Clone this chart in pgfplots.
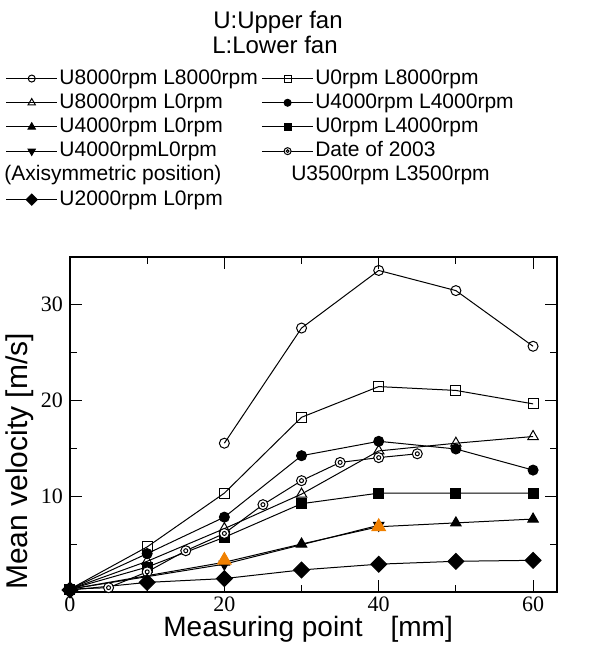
\documentclass[border=0pt]{standalone}
\usepackage{fontspec}
\setmainfont{Liberation Sans}
\newfontfamily\tickfont{Liberation Serif}
\usepackage{pgfplots}
\pgfplotsset{compat=1.18}
\usetikzlibrary{calc}

\definecolor{hiorange}{RGB}{240,128,0}

\pgfdeclareplotmark{dcirc}{%
  \pgfpathcircle{\pgfpoint{0pt}{0pt}}{\pgfplotmarksize}\pgfusepathqfillstroke
  \pgfpathcircle{\pgfpoint{0pt}{0pt}}{0.4\pgfplotmarksize}\pgfusepathqstroke}

\begin{document}
\begin{tikzpicture}
\begin{axis}[
  name=ax,
  scale only axis, width=243.5pt, height=167.5pt,
  xmin=0, xmax=63.1, ymin=0, ymax=34.9,
  xtick={0,20,40,60}, ytick={10,20,30},
  minor xtick={10,30,50}, minor ytick={5,15,25},
  tick align=inside, major tick length=6pt, minor tick length=3.5pt,
  axis line style={line width=0.7pt},
  every tick/.style={black, line width=0.5pt},
  /pgf/number format/assume math mode=true,
  xticklabel={\tickfont\pgfmathprintnumber{\tick}},
  yticklabel={\tickfont\pgfmathprintnumber{\tick}},
  tick label style={font=\fontsize{11}{12}\selectfont},
  xticklabel style={yshift=1pt},
  xlabel={Measuring point\hspace{14pt}[mm]},
  ylabel={Mean velocity [m/s]},
  every axis x label/.style={at={(rel axis cs:0.489,0)}, yshift=-18.5pt, anchor=center, font=\fontsize{14}{15}\selectfont},
  every axis y label/.style={at={(rel axis cs:0,0.39)}, xshift=-25pt, rotate=90, anchor=center, font=\fontsize{15}{16}\selectfont},
  clip=false,
  every axis plot/.append style={black, line width=0.5pt},
  legend columns=2,
  legend cell align=left,
  legend image code/.code={\draw[mark repeat=2,mark phase=2] plot coordinates {(0cm,0cm)(0.45cm,0cm)(0.9cm,0cm)};},
  legend image post style={every mark/.append style={scale=0.7}},
  legend style={at={(rel axis cs:-0.133,1.57)}, anchor=north west, draw=none, fill=none,
    inner sep=0pt, row sep=0pt, font=\fontsize{10.5}{12}\selectfont,
    nodes={inner sep=0.8pt, text height=8pt, text depth=2.5pt},
    /tikz/every even column/.append style={column sep=1pt}},
]
\addplot[mark=o, mark size=2.5pt, mark options={fill=white}] coordinates {
(20,15.5) (30,27.5) (40,33.5) (50,31.4) (60,25.6)};
\addlegendentry{U8000rpm L8000rpm}
\addplot[mark=square, mark size=2.5pt, mark options={fill=white}] coordinates {
(0,0.3) (10,4.7) (20,10.3) (30,18.2) (40,21.4) (50,21.0) (60,19.6)};
\addlegendentry{U0rpm L8000rpm}
\addplot[mark=triangle, mark size=3pt, mark options={fill=white}] coordinates {
(0,0.3) (10,3.2) (20,6.6) (30,10.2) (40,14.7) (50,15.5) (60,16.2)};
\addlegendentry{U8000rpm L0rpm}
\addplot[mark=*, mark size=2.5pt] coordinates {
(0,0.3) (10,4.0) (20,7.8) (30,14.2) (40,15.7) (50,14.9) (60,12.7)};
\addlegendentry{U4000rpm L4000rpm}
\addplot[mark=triangle*, mark size=3pt] coordinates {
(0,0.3) (20,3.1) (30,5.0) (40,6.8) (50,7.2) (60,7.6)};
\addlegendentry{U4000rpm L0rpm}
\addplot[mark=square*, mark size=2.5pt] coordinates {
(0,0.3) (10,2.6) (20,5.7) (30,9.2) (40,10.3) (50,10.3) (60,10.3)};
\addlegendentry{U0rpm L4000rpm}
\addplot[mark=triangle*, mark size=3pt, mark options={rotate=180}] coordinates {
(0,0.3) (20,2.9) (40,6.95)};
\addlegendentry{U4000rpmL0rpm}
\addplot[mark=dcirc, mark size=2.5pt, mark options={fill=white}] coordinates {
(0,0.3) (5,0.45) (10,2.1) (15,4.3) (20,6.1) (25,9.1) (30,11.6) (35,13.5) (40,14.0) (45,14.4)};
\addlegendentry{Date of 2003}
\addlegendimage{empty legend}
\addlegendentry{\hspace{-27.5pt}(Axisymmetric position)}
\addlegendimage{empty legend}
\addlegendentry{\hspace{-12pt}U3500rpm L3500rpm}
\addplot[mark=square*, mark size=2.8pt, mark options={rotate=45}] coordinates {
(0,0.2) (10,1.0) (20,1.4) (30,2.3) (40,2.9) (50,3.2) (60,3.3)};
\addlegendentry{U2000rpm L0rpm}
\addplot[only marks, mark=triangle*, mark size=3.9pt, color=hiorange, forget plot] coordinates {
(20,3.3) (40,6.8)};
\end{axis}
\node[anchor=base, font=\fontsize{12}{13}\selectfont] at ($(ax.south west)+(104pt,282pt)$) {U:Upper fan};
\node[anchor=base, font=\fontsize{12}{13}\selectfont] at ($(ax.south west)+(102.5pt,269.5pt)$) {L:Lower fan};
\pgfresetboundingbox
\path[use as bounding box] ($(ax.south west)+(-35pt,-26.5pt)$) rectangle ($(ax.south west)+(260pt,296pt)$);
\end{tikzpicture}
\end{document}
